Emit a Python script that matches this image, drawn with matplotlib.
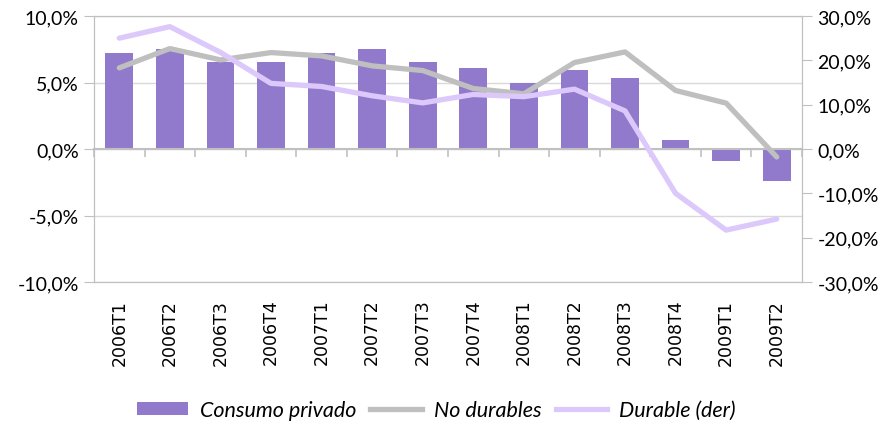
import matplotlib
matplotlib.use("Agg")
import matplotlib.pyplot as plt
import numpy as np
from matplotlib.ticker import FuncFormatter
from matplotlib.patches import Patch
from matplotlib.lines import Line2D

categories = ["2006T1", "2006T2", "2006T3", "2006T4", "2007T1", "2007T2", "2007T3",
              "2007T4", "2008T1", "2008T2", "2008T3", "2008T4", "2009T1", "2009T2"]
consumo_privado = [7.25, 7.55, 6.55, 6.55, 7.25, 7.55, 6.55, 6.1, 4.95, 5.95, 5.35, 0.7, -0.9, -2.4]
no_durables = [6.1, 7.55, 6.7, 7.25, 7.0, 6.25, 5.9, 4.55, 4.15, 6.5, 7.3, 4.4, 3.45, -0.6]
durable = [25.0, 27.6, 21.8, 14.8, 14.1, 12.0, 10.4, 12.3, 11.8, 13.5, 8.6, -10.0, -18.3, -15.8]

plt.rcParams['font.family'] = ['Lato', 'DejaVu Sans']

BAR = "#9179CB"
GRAY = "#BFBFBF"
LPURP = "#DCC8FA"
SPINE = "#C0C0C0"
GRID = "#D9D9D9"

fig = plt.figure(figsize=(8.9, 4.27), dpi=100)
ax = fig.add_axes([94/890, 1-283/427, (802-94)/890, (283-17)/427])
x = np.arange(len(categories))

ax.bar(x, consumo_privado, width=0.55, color=BAR, zorder=2)
ax.plot(x, no_durables, color=GRAY, lw=3.8, solid_capstyle='round', zorder=3)
ax.set_xlim(-0.5, len(categories) - 0.5)
ax.set_ylim(-10, 10)
ax.set_yticks([-10, -5, 0, 5, 10])
fmt = FuncFormatter(lambda v, p: f"{v:.1f}%".replace('.', ','))
ax.yaxis.set_major_formatter(fmt)
ax.grid(axis='y', color=GRID, lw=1, zorder=0)
ax.set_axisbelow(True)
for s in ax.spines.values():
    s.set_color(SPINE)
ax.spines['bottom'].set_position(('data', 0))
ax.spines['bottom'].set_linewidth(1.5)
ax.set_xticks(np.arange(-0.5, len(categories), 1))
ax.tick_params(axis='x', labelbottom=False, length=6, color=SPINE, width=1.2)
ax.tick_params(axis='y', length=7, color=SPINE, labelsize=14, pad=4)

sec = ax.secondary_xaxis(0.0)
sec.set_xticks(x, labels=categories)
sec.tick_params(length=0, pad=12, labelrotation=90, labelsize=12.5,
                labelfontfamily='DejaVu Sans')
sec.spines['bottom'].set_color(SPINE)

ax2 = ax.twinx()
ax2.plot(x, durable, color=LPURP, lw=3.8, solid_capstyle='round', zorder=3)
ax2.set_ylim(-30, 30)
ax2.set_yticks([-30, -20, -10, 0, 10, 20, 30])
ax2.yaxis.set_major_formatter(fmt)
ax2.tick_params(axis='y', length=7, color=SPINE, labelsize=14, pad=4)
for s in ax2.spines.values():
    s.set_color(SPINE)

handles = [Patch(facecolor=BAR, edgecolor='none'),
           Line2D([], [], color=GRAY, lw=3.8),
           Line2D([], [], color=LPURP, lw=3.8)]
labels = ["Consumo privado", "No durables", "Durable (der)"]
fig.legend(handles, labels, loc='center', bbox_to_anchor=(0.49, 1-411/427), ncol=3,
           frameon=False, prop={'style': 'italic', 'size': 15.5}, handlelength=2.4,
           handleheight=0.55, columnspacing=0.65, handletextpad=0.55)

fig.savefig("out.png", dpi=100)
